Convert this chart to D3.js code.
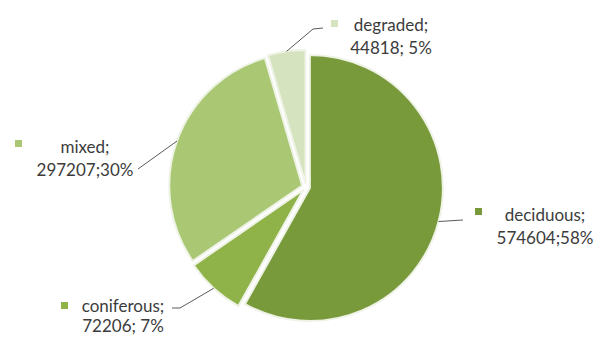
<!DOCTYPE html>
<html>
<head>
<meta charset="utf-8">
<script src="https://cdn.jsdelivr.net/npm/d3@7"></script>
<style>
  html, body { margin: 0; padding: 0; background: #ffffff; }
  svg { display: block; }
</style>
</head>
<body>
<svg id="chart" width="600" height="338"></svg>
<script>
// Forest area by type
const categories = ["deciduous", "coniferous", "mixed", "degraded"];
const values = [574604, 72206, 297207, 44818];
const percentLabels = ["58%", "7%", "30%", "5%"];
const valueSeparators = [";", "; ", ";", "; "];
const colors = ["#789a3b", "#8fb349", "#aac874", "#d5e3bf"];

// Label placement: anchor of the two-line label, marker box and leader bend points
const labelLayout = {
  deciduous:  { x: 545, y1: 215, y2: 238, marker: [475, 208], leader: [[463, 220]] },
  coniferous: { x: 123, y1: 306, y2: 326, marker: [61, 302],  leader: [[180, 308], [172, 308]] },
  mixed:      { x: 85,  y1: 147, y2: 170, marker: [15, 140],  leader: [[138, 169]] },
  degraded:   { x: 391, y1: 25,  y2: 48,  marker: [331, 20],  leader: [[313, 29], [323, 28]] }
};

const svg = d3.select("#chart");
const cx = 306, cy = 187, radius = 133, explode = 4;

const pie = d3.pie().sort(null).value(d => d.value);
const arc = d3.arc().innerRadius(0).outerRadius(radius);

const data = categories.map((c, i) => ({ name: c, value: values[i], color: colors[i], i }));
const arcs = pie(data);

const g = svg.append("g").attr("transform", `translate(${cx},${cy})`);

function offsetOf(a) {
  const mid = (a.startAngle + a.endAngle) / 2;
  return [Math.sin(mid) * explode, -Math.cos(mid) * explode];
}

g.selectAll("path.slice")
  .data(arcs)
  .join("path")
  .attr("class", "slice")
  .attr("transform", d => `translate(${offsetOf(d)})`)
  .attr("d", arc)
  .attr("fill", d => d.data.color)
  .attr("stroke", "#eef3e6")
  .attr("stroke-width", 2)
  .attr("stroke-linejoin", "round");

// Leader lines from the outer edge at each slice's mid angle
const leaderLine = d3.line();
arcs.forEach(a => {
  const mid = (a.startAngle + a.endAngle) / 2;
  const [ox, oy] = offsetOf(a);
  const start = [cx + ox + Math.sin(mid) * radius, cy + oy - Math.cos(mid) * radius];
  const L = labelLayout[a.data.name];
  svg.append("path")
    .attr("d", leaderLine([start, ...L.leader]))
    .attr("fill", "none")
    .attr("stroke", "#5a5a5a")
    .attr("stroke-width", 1);
});

// Labels: marker square plus "name;" / "value; pct"
arcs.forEach(a => {
  const i = a.data.i;
  const L = labelLayout[a.data.name];
  svg.append("rect")
    .attr("x", L.marker[0]).attr("y", L.marker[1])
    .attr("width", 7).attr("height", 7)
    .attr("fill", a.data.color);
  const t = svg.append("text")
    .attr("text-anchor", "middle")
    .attr("font-family", "Lato, 'Open Sans', sans-serif")
    .attr("font-size", 17)
    .attr("fill", "#3c3c3c");
  t.append("tspan").attr("x", L.x).attr("y", L.y1).attr("dy", "0.35em")
    .text(a.data.name + ";");
  t.append("tspan").attr("x", L.x).attr("y", L.y2).attr("dy", "0.35em")
    .text(values[i] + valueSeparators[i] + percentLabels[i]);
});
</script>
</body>
</html>
